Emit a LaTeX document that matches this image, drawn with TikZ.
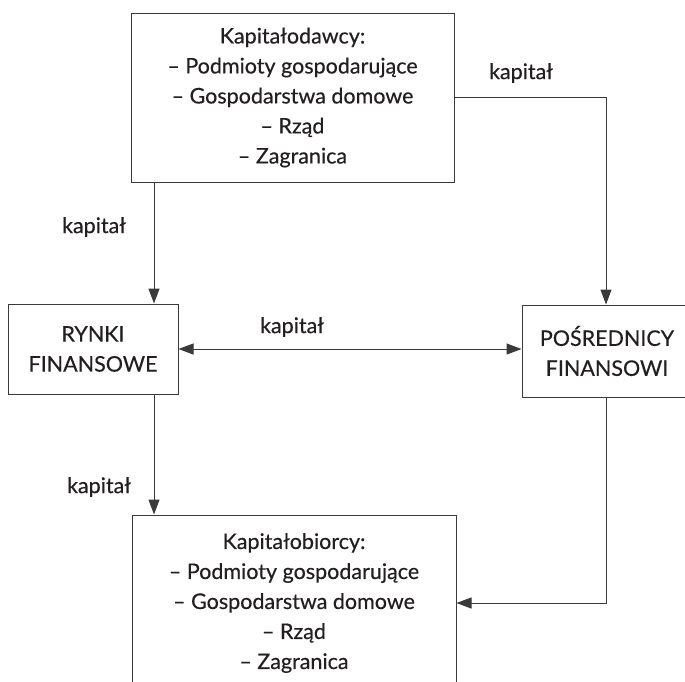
\documentclass[tikz,border=0pt]{standalone}
\usepackage{fontspec}
\setmainfont{Lato}[FakeBold=0.35]
\usetikzlibrary{arrows.meta}
\definecolor{ink}{HTML}{231F20}
\definecolor{edge}{HTML}{3A3A3A}
\begin{document}
\begin{tikzpicture}[x=1pt,y=-1pt,
  txt/.style={text=ink,font=\fontsize{21.5}{30}\selectfont,align=center,inner sep=0pt},
  box/.style={txt,draw=edge,line width=1pt,minimum width=#1},
  arr/.style={draw=edge,line width=1pt,-{Triangle[length=15pt,width=11pt]}},
  arrtwo/.style={draw=edge,line width=1pt,{Triangle[length=15pt,width=11pt]}-{Triangle[length=15pt,width=11pt]}},
  lbl/.style={txt}]
\useasboundingbox (0,0) rectangle (685,681);
\clip (0,0) rectangle (685,681);
\fill[white] (0,0) rectangle (685,681);
\node[box=323pt,minimum height=169pt] (top) at (292.5,97.5)
  {Kapitałodawcy:\\– Podmioty gospodarujące\\– Gospodarstwa domowe\\– Rząd\\– Zagranica};
\node[box=170pt,minimum height=90pt] (rynki) at (93,349) {RYNKI\\FINANSOWE};
\node[box=170pt,minimum height=92pt] (posr) at (607,351) {POŚREDNICY\\FINANSOWI};
\node[box=324pt,minimum height=176pt] (bottom) at (294,603)
  {Kapitałobiorcy:\\– Podmioty gospodarujące\\– Gospodarstwa domowe\\– Rząd\\– Zagranica};
\coordinate (cl) at (154,0);
\coordinate (cr) at (606,0);
\draw[arr] (top.south -| cl) -- (rynki.north -| cl);
\draw[arr] (top.east) -| (posr.north -| cr);
\draw[arrtwo] (rynki.east) -- (posr.west |- rynki.east);
\draw[arr] (rynki.south -| cl) -- (bottom.north -| cl);
\draw[arr] (posr.south -| cr) |- (bottom.east);
\node[lbl] (l1) at (521,73) {kapitał};
\node[lbl] (l2) at (94,227) {kapitał};
\node[lbl] (l3) at (292,327) {kapitał};
\node[lbl] (l4) at (99,487) {kapitał};
\end{tikzpicture}
\end{document}
